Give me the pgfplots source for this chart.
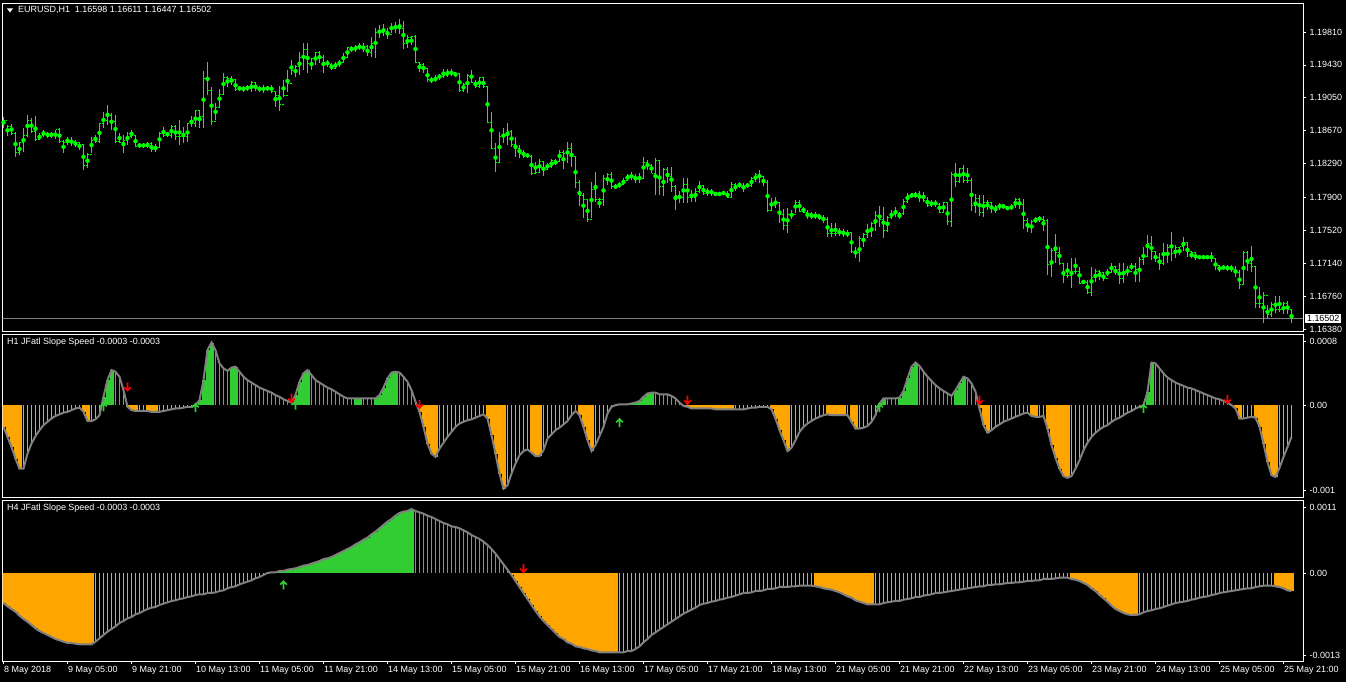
\documentclass[border=0pt]{standalone}
\usepackage{pgfplots}
\pgfplotsset{compat=1.18}
\usepackage{pgfplotstable}
\usepackage{fontspec}
\setmainfont{Liberation Sans}
\definecolor{barlime}{RGB}{0,255,0}
\definecolor{histor}{RGB}{255,165,0}
\definecolor{histgr}{RGB}{50,205,50}
\definecolor{indgray}{RGB}{128,128,128}
\definecolor{arrred}{RGB}{255,0,0}
\definecolor{arrgrn}{RGB}{50,205,50}
\pgfdeclareplotmark{rtick}{\pgfpathmoveto{\pgfqpoint{0bp}{0bp}}\pgfpathlineto{\pgfqpoint{1.8bp}{0bp}}\pgfusepathqstroke}
\pgfdeclareplotmark{ltick}{\pgfpathmoveto{\pgfqpoint{-1.8bp}{0bp}}\pgfpathlineto{\pgfqpoint{0bp}{0bp}}\pgfusepathqstroke}
\pgfdeclareplotmark{dnarr}{\pgfsetlinewidth{1.6bp}\pgfpathmoveto{\pgfqpoint{0bp}{4.5bp}}\pgfpathlineto{\pgfqpoint{0bp}{-3.8bp}}\pgfpathmoveto{\pgfqpoint{-3.3bp}{-0.3bp}}\pgfpathlineto{\pgfqpoint{0bp}{-3.8bp}}\pgfpathlineto{\pgfqpoint{3.3bp}{-0.3bp}}\pgfusepathqstroke}
\pgfdeclareplotmark{uparr}{\pgfsetlinewidth{1.6bp}\pgfpathmoveto{\pgfqpoint{0bp}{-4.5bp}}\pgfpathlineto{\pgfqpoint{0bp}{3.8bp}}\pgfpathmoveto{\pgfqpoint{-3.3bp}{0.3bp}}\pgfpathlineto{\pgfqpoint{0bp}{3.8bp}}\pgfpathlineto{\pgfqpoint{3.3bp}{0.3bp}}\pgfusepathqstroke}
\pgfplotsset{
  hcode/.style 2 args={restrict expr to domain={\thisrow{#1}}{#2}},
  mtaxis/.style={
    scale only axis, width=1300.5bp, xmin=-0.25, xmax=324.875,
    scaled x ticks=false, scaled y ticks=false,
    axis line style={white, line width=0.8bp},
    tick style={white, line width=0.8bp},
    tick align=outside, major tick length=3bp,
    ytick pos=right, yticklabel pos=right,
    xtick pos=left, xticklabel pos=left,
    tick label style={text=white, font=\fontsize{9}{10}\selectfont},
    yticklabel style={anchor=west, inner sep=0pt, xshift=3.5bp},
    clip mode=individual,
  },
}
\pgfplotstableread{
H L C a ka b kb
1.1883 1.1870 1.1879 -26e-5 1 -45e-5 1
1.1874 1.1861 1.1872 -38e-5 1 -50e-5 1
1.1875 1.1862 1.1864 -50e-5 1 -54e-5 1
1.1866 1.1837 1.1842 -64e-5 1 -58e-5 1
1.1853 1.1839 1.1853 -76e-5 1 -64e-5 1
1.1870 1.1842 1.1861 -76e-5 2 -69e-5 1
1.1885 1.1860 1.1879 -58e-5 2 -73e-5 1
1.1882 1.1864 1.1866 -46e-5 2 -78e-5 1
1.1884 1.1855 1.1857 -37e-5 2 -83e-5 1
1.1864 1.1856 1.1862 -30e-5 2 -87e-5 1
1.1868 1.1860 1.1864 -24e-5 2 -90e-5 1
1.1866 1.1859 1.1860 -20e-5 2 -93e-5 1
1.1866 1.1859 1.1861 -16e-5 2 -96e-5 1
1.1868 1.1857 1.1868 -13e-5 2 -99e-5 1
1.1870 1.1853 1.1854 -11e-5 2 -101e-5 1
1.1856 1.1841 1.1853 -9e-5 2 -103e-5 1
1.1860 1.1851 1.1853 -8e-5 2 -105e-5 1
1.1860 1.1849 1.1854 -6e-5 2 -105e-5 1
1.1856 1.1848 1.1853 -4e-5 2 -106e-5 1
1.1854 1.1845 1.1851 -3e-5 2 -107e-5 1
1.1852 1.1822 1.1827 -8e-5 1 -107e-5 1
1.1841 1.1824 1.1839 -19e-5 1 -107e-5 1
1.1860 1.1841 1.1856 -19e-5 2 -107e-5 1
1.1862 1.1853 1.1855 -17e-5 2 -103e-5 2
1.1876 1.1853 1.1875 -12e-5 2 -98e-5 2
1.1889 1.1870 1.1879 10e-5 3 -93e-5 2
1.1897 1.1874 1.1885 30e-5 3 -88e-5 2
1.1887 1.1868 1.1878 42e-5 3 -84e-5 2
1.1885 1.1853 1.1854 40e-5 4 -80e-5 2
1.1864 1.1853 1.1853 34e-5 4 -75e-5 2
1.1862 1.1841 1.1856 18e-5 4 -72e-5 2
1.1866 1.1851 1.1860 -2e-5 1 -68e-5 2
1.1868 1.1859 1.1861 -6e-5 1 -66e-5 2
1.1862 1.1848 1.1849 -7e-5 1 -62e-5 2
1.1853 1.1847 1.1849 -7e-5 2 -60e-5 2
1.1853 1.1847 1.1849 -7e-5 2 -57e-5 2
1.1854 1.1847 1.1852 -7e-5 1 -54e-5 2
1.1854 1.1842 1.1845 -8e-5 1 -52e-5 2
1.1852 1.1842 1.1848 -8e-5 1 -51e-5 2
1.1866 1.1848 1.1864 -8e-5 2 -48e-5 2
1.1871 1.1860 1.1862 -7e-5 2 -46e-5 2
1.1866 1.1860 1.1862 -6e-5 2 -44e-5 2
1.1874 1.1859 1.1872 -5e-5 2 -42e-5 2
1.1874 1.1856 1.1860 -4e-5 2 -41e-5 2
1.1879 1.1851 1.1860 -4e-5 2 -39e-5 2
1.1871 1.1853 1.1860 -3e-5 2 -38e-5 2
1.1876 1.1854 1.1875 -2e-5 2 -36e-5 2
1.1884 1.1871 1.1875 -2e-5 2 -35e-5 2
1.1891 1.1871 1.1890 0 3 -33e-5 2
1.1891 1.1870 1.1883 6e-5 3 -32e-5 2
1.1936 1.1870 1.1927 30e-5 3 -32e-5 2
1.1946 1.1908 1.1914 66e-5 3 -30e-5 2
1.1918 1.1874 1.1878 75e-5 3 -30e-5 2
1.1899 1.1879 1.1894 66e-5 4 -29e-5 2
1.1915 1.1893 1.1909 50e-5 4 -27e-5 2
1.1934 1.1908 1.1928 44e-5 4 -26e-5 2
1.1930 1.1918 1.1927 41e-5 4 -23e-5 2
1.1930 1.1920 1.1926 45e-5 3 -21e-5 2
1.1926 1.1913 1.1915 46e-5 3 -20e-5 2
1.1919 1.1913 1.1916 40e-5 4 -17e-5 2
1.1919 1.1912 1.1916 34e-5 4 -15e-5 2
1.1920 1.1913 1.1916 30e-5 4 -13e-5 2
1.1924 1.1912 1.1923 27e-5 4 -11e-5 2
1.1923 1.1913 1.1916 24e-5 4 -8e-5 2
1.1919 1.1912 1.1915 21e-5 4 -6e-5 2
1.1920 1.1911 1.1916 19e-5 4 -3e-5 2
1.1919 1.1913 1.1916 17e-5 4 0 2
1.1920 1.1911 1.1912 15e-5 4 1e-5 3
1.1913 1.1894 1.1908 12e-5 4 1e-5 3
1.1919 1.1890 1.1897 10e-5 4 3e-5 3
1.1926 1.1906 1.1908 7e-5 4 3e-5 3
1.1937 1.1912 1.1922 5e-5 4 5e-5 3
1.1949 1.1931 1.1936 3e-5 4 6e-5 3
1.1943 1.1929 1.1941 12e-5 3 7e-5 3
1.1958 1.1931 1.1951 28e-5 3 9e-5 3
1.1968 1.1937 1.1961 38e-5 3 11e-5 3
1.1968 1.1934 1.1945 42e-5 3 12e-5 3
1.1951 1.1937 1.1950 36e-5 4 14e-5 3
1.1958 1.1943 1.1957 30e-5 4 16e-5 3
1.1959 1.1945 1.1952 27e-5 4 18e-5 3
1.1954 1.1934 1.1944 24e-5 4 21e-5 3
1.1949 1.1941 1.1943 21e-5 4 22e-5 3
1.1945 1.1937 1.1939 19e-5 4 24e-5 3
1.1946 1.1939 1.1944 16e-5 4 27e-5 3
1.1949 1.1941 1.1946 13e-5 4 30e-5 3
1.1957 1.1945 1.1951 10e-5 4 33e-5 3
1.1964 1.1951 1.1963 8e-5 4 36e-5 3
1.1965 1.1958 1.1963 8e-5 4 39e-5 3
1.1966 1.1958 1.1964 8e-5 3 43e-5 3
1.1968 1.1960 1.1964 8e-5 3 46e-5 3
1.1968 1.1958 1.1964 8e-5 4 50e-5 3
1.1966 1.1953 1.1957 8e-5 4 53e-5 3
1.1975 1.1952 1.1968 8e-5 4 58e-5 3
1.1986 1.1951 1.1980 8e-5 3 62e-5 3
1.1989 1.1974 1.1980 12e-5 3 67e-5 3
1.1990 1.1976 1.1982 21e-5 3 72e-5 3
1.1986 1.1973 1.1978 32e-5 3 77e-5 3
1.1991 1.1980 1.1985 39e-5 3 81e-5 3
1.1993 1.1980 1.1985 40e-5 3 86e-5 3
1.1996 1.1979 1.1985 39e-5 4 90e-5 3
1.1994 1.1961 1.1968 34e-5 4 92e-5 3
1.1978 1.1963 1.1975 28e-5 4 93e-5 3
1.1976 1.1966 1.1976 18e-5 4 96e-5 3
1.1978 1.1945 1.1946 4e-5 4 93e-5 4
1.1946 1.1935 1.1943 -8e-5 1 91e-5 4
1.1945 1.1934 1.1939 -26e-5 1 89e-5 4
1.1939 1.1923 1.1926 -46e-5 1 86e-5 4
1.1929 1.1922 1.1926 -58e-5 1 84e-5 4
1.1931 1.1923 1.1928 -62e-5 1 81e-5 4
1.1933 1.1926 1.1930 -52e-5 2 78e-5 4
1.1938 1.1928 1.1931 -45e-5 2 75e-5 4
1.1938 1.1929 1.1935 -38e-5 2 73e-5 4
1.1938 1.1930 1.1934 -32e-5 2 70e-5 4
1.1934 1.1930 1.1933 -26e-5 2 69e-5 4
1.1934 1.1912 1.1913 -22e-5 2 67e-5 4
1.1922 1.1912 1.1920 -20e-5 2 64e-5 4
1.1933 1.1911 1.1931 -18e-5 2 61e-5 4
1.1937 1.1922 1.1923 -17e-5 2 57e-5 4
1.1926 1.1916 1.1918 -15e-5 2 54e-5 4
1.1929 1.1916 1.1928 -13e-5 2 51e-5 4
1.1928 1.1916 1.1918 -11e-5 2 47e-5 4
1.1919 1.1876 1.1877 -16e-5 1 42e-5 4
1.1889 1.1846 1.1847 -36e-5 1 36e-5 4
1.1853 1.1819 1.1830 -58e-5 1 29e-5 4
1.1866 1.1830 1.1860 -82e-5 1 21e-5 4
1.1870 1.1853 1.1862 -100e-5 1 13e-5 4
1.1876 1.1851 1.1866 -96e-5 2 5e-5 4
1.1868 1.1848 1.1851 -82e-5 2 -3e-5 1
1.1860 1.1837 1.1847 -70e-5 2 -12e-5 1
1.1851 1.1836 1.1841 -60e-5 2 -21e-5 1
1.1845 1.1836 1.1837 -55e-5 2 -30e-5 1
1.1841 1.1836 1.1837 -53e-5 2 -39e-5 1
1.1839 1.1816 1.1818 -57e-5 1 -48e-5 1
1.1831 1.1818 1.1819 -61e-5 1 -57e-5 1
1.1834 1.1818 1.1831 -61e-5 1 -65e-5 1
1.1831 1.1815 1.1822 -54e-5 2 -72e-5 1
1.1830 1.1822 1.1826 -40e-5 2 -78e-5 1
1.1834 1.1824 1.1833 -35e-5 2 -84e-5 1
1.1834 1.1827 1.1831 -30e-5 2 -90e-5 1
1.1845 1.1831 1.1842 -27e-5 2 -96e-5 1
1.1845 1.1823 1.1841 -23e-5 2 -99e-5 1
1.1854 1.1830 1.1847 -19e-5 2 -104e-5 1
1.1853 1.1825 1.1837 -12e-5 2 -106e-5 1
1.1837 1.1801 1.1807 -7e-5 2 -110e-5 1
1.1810 1.1780 1.1792 -12e-5 1 -111e-5 1
1.1795 1.1766 1.1787 -26e-5 1 -113e-5 1
1.1787 1.1762 1.1765 -42e-5 1 -114e-5 1
1.1808 1.1766 1.1799 -55e-5 1 -116e-5 1
1.1819 1.1785 1.1787 -48e-5 2 -117e-5 1
1.1789 1.1778 1.1787 -37e-5 2 -119e-5 1
1.1816 1.1780 1.1812 -26e-5 2 -119e-5 1
1.1818 1.1804 1.1816 -10e-5 2 -119e-5 1
1.1819 1.1800 1.1802 -2e-5 2 -119e-5 1
1.1805 1.1800 1.1802 0 2 -119e-5 1
1.1808 1.1801 1.1805 1e-5 3 -119e-5 2
1.1812 1.1804 1.1810 1e-5 3 -119e-5 2
1.1817 1.1809 1.1815 1e-5 3 -117e-5 2
1.1819 1.1810 1.1814 2e-5 3 -117e-5 2
1.1817 1.1807 1.1812 3e-5 3 -114e-5 2
1.1818 1.1807 1.1812 5e-5 3 -110e-5 2
1.1837 1.1812 1.1830 10e-5 3 -104e-5 2
1.1833 1.1822 1.1827 14e-5 3 -99e-5 2
1.1829 1.1818 1.1818 15e-5 3 -93e-5 2
1.1836 1.1793 1.1833 15e-5 4 -89e-5 2
1.1833 1.1793 1.1802 13e-5 4 -85e-5 2
1.1824 1.1792 1.1822 13e-5 4 -81e-5 2
1.1825 1.1807 1.1814 13e-5 4 -77e-5 2
1.1825 1.1796 1.1803 11e-5 4 -73e-5 2
1.1804 1.1775 1.1792 8e-5 4 -69e-5 2
1.1797 1.1784 1.1790 3e-5 4 -65e-5 2
1.1812 1.1784 1.1805 -1e-5 1 -61e-5 2
1.1812 1.1784 1.1790 -2e-5 1 -58e-5 2
1.1799 1.1785 1.1790 -4e-5 1 -55e-5 2
1.1801 1.1785 1.1797 -4e-5 1 -52e-5 2
1.1809 1.1795 1.1804 -4e-5 1 -48e-5 2
1.1804 1.1793 1.1795 -4e-5 1 -46e-5 2
1.1801 1.1792 1.1797 -4e-5 1 -45e-5 2
1.1800 1.1792 1.1795 -4e-5 1 -43e-5 2
1.1796 1.1792 1.1793 -5e-5 1 -42e-5 2
1.1796 1.1792 1.1795 -5e-5 1 -40e-5 2
1.1797 1.1793 1.1795 -5e-5 1 -39e-5 2
1.1797 1.1789 1.1790 -5e-5 1 -37e-5 2
1.1808 1.1789 1.1805 -5e-5 1 -36e-5 2
1.1807 1.1797 1.1802 -5e-5 2 -34e-5 2
1.1808 1.1801 1.1802 -5e-5 2 -32e-5 2
1.1807 1.1796 1.1802 -5e-5 2 -30e-5 2
1.1807 1.1801 1.1804 -4e-5 2 -30e-5 2
1.1814 1.1802 1.1812 -3e-5 2 -29e-5 2
1.1818 1.1808 1.1816 -3e-5 2 -27e-5 2
1.1822 1.1807 1.1814 -2e-5 2 -27e-5 2
1.1815 1.1803 1.1807 -2e-5 2 -26e-5 2
1.1810 1.1773 1.1775 -2e-5 2 -24e-5 2
1.1789 1.1775 1.1781 -5e-5 1 -24e-5 2
1.1790 1.1778 1.1784 -16e-5 1 -23e-5 2
1.1785 1.1760 1.1770 -30e-5 1 -21e-5 2
1.1777 1.1752 1.1757 -42e-5 1 -21e-5 2
1.1778 1.1749 1.1770 -55e-5 1 -21e-5 2
1.1775 1.1765 1.1770 -51e-5 2 -20e-5 2
1.1787 1.1772 1.1784 -42e-5 2 -20e-5 2
1.1787 1.1773 1.1774 -32e-5 2 -19e-5 2
1.1779 1.1772 1.1773 -26e-5 2 -19e-5 2
1.1775 1.1765 1.1771 -22e-5 2 -19e-5 2
1.1773 1.1765 1.1767 -19e-5 2 -19e-5 2
1.1773 1.1765 1.1770 -16e-5 2 -20e-5 1
1.1771 1.1764 1.1766 -14e-5 2 -21e-5 1
1.1770 1.1760 1.1765 -12e-5 2 -23e-5 1
1.1767 1.1744 1.1748 -11e-5 1 -24e-5 1
1.1760 1.1744 1.1748 -12e-5 1 -25e-5 1
1.1760 1.1745 1.1748 -12e-5 1 -27e-5 1
1.1755 1.1745 1.1751 -12e-5 1 -29e-5 1
1.1754 1.1744 1.1750 -12e-5 1 -32e-5 1
1.1752 1.1744 1.1750 -12e-5 2 -35e-5 1
1.1750 1.1726 1.1728 -20e-5 1 -37e-5 1
1.1733 1.1720 1.1726 -28e-5 1 -41e-5 1
1.1745 1.1715 1.1742 -28e-5 2 -43e-5 1
1.1749 1.1733 1.1747 -27e-5 2 -45e-5 1
1.1759 1.1743 1.1751 -25e-5 2 -47e-5 1
1.1762 1.1744 1.1760 -20e-5 2 -47e-5 1
1.1774 1.1751 1.1769 -12e-5 2 -47e-5 2
1.1780 1.1756 1.1764 2e-5 3 -47e-5 2
1.1779 1.1743 1.1752 8e-5 3 -45e-5 2
1.1769 1.1750 1.1767 8e-5 4 -44e-5 2
1.1775 1.1765 1.1770 8e-5 4 -43e-5 2
1.1779 1.1767 1.1771 8e-5 4 -42e-5 2
1.1773 1.1765 1.1771 9e-5 3 -42e-5 2
1.1788 1.1770 1.1785 17e-5 3 -40e-5 2
1.1795 1.1784 1.1792 32e-5 3 -39e-5 2
1.1795 1.1789 1.1794 46e-5 3 -38e-5 2
1.1796 1.1789 1.1794 51e-5 3 -36e-5 2
1.1797 1.1785 1.1790 47e-5 4 -36e-5 2
1.1796 1.1785 1.1786 40e-5 4 -34e-5 2
1.1790 1.1779 1.1781 34e-5 4 -33e-5 2
1.1787 1.1779 1.1782 29e-5 4 -32e-5 2
1.1787 1.1779 1.1782 24e-5 4 -30e-5 2
1.1784 1.1772 1.1773 20e-5 4 -30e-5 2
1.1785 1.1772 1.1784 17e-5 4 -29e-5 2
1.1785 1.1758 1.1762 14e-5 4 -28e-5 2
1.1819 1.1756 1.1817 11e-5 4 -27e-5 2
1.1830 1.1802 1.1808 18e-5 3 -26e-5 2
1.1824 1.1807 1.1823 26e-5 3 -25e-5 2
1.1827 1.1807 1.1810 34e-5 3 -24e-5 2
1.1824 1.1807 1.1809 32e-5 4 -23e-5 2
1.1812 1.1774 1.1781 26e-5 4 -22e-5 2
1.1794 1.1772 1.1789 16e-5 4 -21e-5 2
1.1793 1.1769 1.1773 -4e-5 1 -20e-5 2
1.1793 1.1767 1.1784 -24e-5 1 -20e-5 2
1.1787 1.1775 1.1784 -33e-5 1 -18e-5 2
1.1785 1.1772 1.1777 -30e-5 2 -18e-5 2
1.1781 1.1772 1.1779 -26e-5 2 -17e-5 2
1.1784 1.1775 1.1782 -23e-5 2 -17e-5 2
1.1782 1.1777 1.1779 -20e-5 2 -16e-5 2
1.1780 1.1775 1.1778 -18e-5 2 -15e-5 2
1.1782 1.1775 1.1781 -16e-5 2 -15e-5 2
1.1789 1.1778 1.1787 -14e-5 2 -14e-5 2
1.1789 1.1777 1.1782 -12e-5 2 -14e-5 2
1.1788 1.1754 1.1763 -10e-5 2 -13e-5 2
1.1766 1.1750 1.1755 -9e-5 2 -12e-5 2
1.1764 1.1749 1.1762 -13e-5 1 -12e-5 2
1.1767 1.1760 1.1766 -14e-5 1 -11e-5 2
1.1769 1.1762 1.1765 -14e-5 2 -11e-5 2
1.1769 1.1751 1.1763 -13e-5 2 -9e-5 2
1.1765 1.1700 1.1712 -28e-5 1 -9e-5 2
1.1732 1.1698 1.1729 -48e-5 1 -9e-5 2
1.1748 1.1714 1.1726 -63e-5 1 -8e-5 2
1.1733 1.1712 1.1714 -76e-5 1 -7e-5 2
1.1714 1.1691 1.1700 -85e-5 1 -7e-5 2
1.1714 1.1697 1.1700 -87e-5 1 -7e-5 2
1.1720 1.1685 1.1704 -85e-5 2 -9e-5 1
1.1720 1.1702 1.1704 -76e-5 2 -10e-5 1
1.1710 1.1690 1.1691 -66e-5 2 -12e-5 1
1.1695 1.1690 1.1692 -54e-5 2 -15e-5 1
1.1695 1.1678 1.1680 -45e-5 2 -18e-5 1
1.1710 1.1676 1.1698 -38e-5 2 -23e-5 1
1.1707 1.1692 1.1704 -33e-5 2 -27e-5 1
1.1706 1.1695 1.1703 -29e-5 2 -33e-5 1
1.1704 1.1693 1.1696 -26e-5 2 -38e-5 1
1.1707 1.1699 1.1703 -24e-5 2 -43e-5 1
1.1714 1.1703 1.1710 -20e-5 2 -49e-5 1
1.1710 1.1700 1.1707 -17e-5 2 -54e-5 1
1.1714 1.1690 1.1696 -15e-5 2 -57e-5 1
1.1714 1.1691 1.1704 -12e-5 2 -60e-5 1
1.1711 1.1699 1.1704 -9e-5 2 -62e-5 1
1.1714 1.1706 1.1710 -7e-5 2 -63e-5 1
1.1714 1.1692 1.1707 -4e-5 2 -63e-5 1
1.1721 1.1692 1.1718 -2e-5 2 -62e-5 2
1.1733 1.1712 1.1722 0 3 -59e-5 2
1.1747 1.1721 1.1737 16e-5 3 -57e-5 2
1.1745 1.1718 1.1727 51e-5 3 -56e-5 2
1.1727 1.1715 1.1720 50e-5 4 -54e-5 2
1.1726 1.1706 1.1714 44e-5 4 -53e-5 2
1.1737 1.1712 1.1726 38e-5 4 -51e-5 2
1.1736 1.1714 1.1732 33e-5 4 -49e-5 2
1.1750 1.1717 1.1725 30e-5 4 -47e-5 2
1.1735 1.1720 1.1732 27e-5 4 -45e-5 2
1.1733 1.1723 1.1733 25e-5 4 -44e-5 2
1.1744 1.1728 1.1738 23e-5 4 -43e-5 2
1.1738 1.1721 1.1727 21e-5 4 -42e-5 2
1.1727 1.1720 1.1726 20e-5 4 -40e-5 2
1.1726 1.1718 1.1720 18e-5 4 -39e-5 2
1.1723 1.1719 1.1721 16e-5 4 -37e-5 2
1.1723 1.1719 1.1721 14e-5 4 -36e-5 2
1.1723 1.1719 1.1721 12e-5 4 -35e-5 2
1.1727 1.1715 1.1719 10e-5 4 -33e-5 2
1.1719 1.1706 1.1711 8e-5 4 -32e-5 2
1.1712 1.1704 1.1708 7e-5 4 -30e-5 2
1.1712 1.1706 1.1710 5e-5 4 -29e-5 2
1.1712 1.1705 1.1710 3e-5 4 -28e-5 2
1.1712 1.1704 1.1707 0 2 -27e-5 2
1.1711 1.1698 1.1703 -4e-5 1 -26e-5 2
1.1706 1.1684 1.1689 -16e-5 1 -25e-5 2
1.1728 1.1689 1.1726 -16e-5 2 -24e-5 2
1.1728 1.1705 1.1714 -15e-5 2 -23e-5 2
1.1734 1.1704 1.1710 -14e-5 2 -23e-5 2
1.1710 1.1662 1.1668 -15e-5 1 -21e-5 2
1.1687 1.1662 1.1668 -26e-5 1 -20e-5 2
1.1681 1.1645 1.1677 -46e-5 1 -19e-5 2
1.1666 1.1650 1.1655 -68e-5 1 -19e-5 2
1.1669 1.1652 1.1666 -84e-5 1 -19e-5 2
1.1676 1.1656 1.1660 -86e-5 1 -20e-5 1
1.1676 1.1658 1.1660 -75e-5 2 -21e-5 1
1.1669 1.1655 1.1668 -62e-5 2 -23e-5 1
1.1670 1.1656 1.1661 -50e-5 2 -26e-5 1
1.16611 1.16447 1.16502 -38e-5 2 -27e-5 1
}\data
\begin{document}
\begin{tikzpicture}
\useasboundingbox (0,0) rectangle (1346bp,682bp);
\fill[black] (0,0) rectangle (1346bp,682bp);
% ---------------- price panel
\begin{axis}[mtaxis, at={(2.5bp,351bp)}, anchor=south west, height=328bp,
  ymin=1.16357, ymax=1.20145, xtick=\empty,
  ytick={1.1981,1.1943,1.1905,1.1867,1.1829,1.179,1.1752,1.1714,1.1676,1.1638},
  yticklabels={1.19810,1.19430,1.19050,1.18670,1.18290,1.17900,1.17520,1.17140,1.16760,1.16380}]
\addplot[indgray, line width=0.8bp, mark=none] coordinates {(-1,1.16502) (326,1.16502)};
\addplot[barlime, only marks, mark=none, error bars/.cd, y dir=both, y explicit, error mark=none,
  error bar style={color=barlime, line width=1bp, solid}]
  table[x expr=\coordindex, y expr={(\thisrow{H}+\thisrow{L})/2}, y error expr={(\thisrow{H}-\thisrow{L})/2}] {\data};
\addplot[only marks, mark=rtick, barlime, mark options={line width=1bp, solid}] table[x expr=\coordindex, y=C] {\data};
\addplot[only marks, mark=ltick, barlime, mark options={line width=1bp, solid}, restrict x to domain=0:322.5] table[x expr=\coordindex+1, y=C] {\data};
\node[anchor=west, fill=white, text=black, inner xsep=2bp, inner ysep=1.2bp, font=\fontsize{9}{10}\selectfont, xshift=1.8bp] at (axis cs:324.875,1.16502) {1.16502};
\end{axis}
% ---------------- H1 panel
\begin{axis}[mtaxis, at={(2.5bp,185bp)}, anchor=south west, height=163bp,
  ymin=-0.0011, ymax=0.000852, xtick=\empty,
  ytick={-0.00102,0,0.000768}, yticklabels={-0.001,0.00,0.0008}]
\addplot[ycomb, mark=none, histor, line width=4bp, hcode={ka}{0.5:1.5}] table[x expr=\coordindex, y=a] {\data};
\addplot[ycomb, mark=none, histor, line width=1bp, hcode={ka}{1.5:2.5}] table[x expr=\coordindex, y=a] {\data};
\addplot[ycomb, mark=none, histgr, line width=4bp, hcode={ka}{2.5:3.5}] table[x expr=\coordindex, y=a] {\data};
\addplot[ycomb, mark=none, histgr, line width=1bp, hcode={ka}{3.5:4.5}] table[x expr=\coordindex, y=a] {\data};
\addplot[indgray, line width=2bp, mark=none] table[x expr=\coordindex, y=a] {\data};
\addplot[only marks, mark=dnarr, arrred] coordinates {(31,22e-5) (72,8e-5) (104,1e-5) (171,6e-5) (244,6e-5) (306,7e-5)};
\addplot[only marks, mark=uparr, arrgrn] coordinates {(25,-2e-5) (48,-3e-5) (73,0) (154,-21e-5) (219,-3e-5) (285,-4e-5)};
\end{axis}
% ---------------- H4 panel
\begin{axis}[mtaxis, at={(2.5bp,21bp)}, anchor=south west, height=161bp,
  ymin=-0.00132, ymax=0.001095,
  ytick={-0.00123,0,0.00099}, yticklabels={-0.0013,0.00,0.0011},
  xtick={0,16,...,320},
  xticklabels={8 May 2018,9 May 05:00,9 May 21:00,10 May 13:00,11 May 05:00,11 May 21:00,14 May 13:00,15 May 05:00,15 May 21:00,16 May 13:00,17 May 05:00,17 May 21:00,18 May 13:00,21 May 05:00,21 May 21:00,22 May 13:00,23 May 05:00,23 May 21:00,24 May 13:00,25 May 05:00,25 May 21:00},
  xticklabel style={anchor=west, inner sep=0pt, yshift=-6.5bp, xshift=0.5bp}]
\addplot[ycomb, mark=none, histor, line width=4bp, hcode={kb}{0.5:1.5}] table[x expr=\coordindex, y=b] {\data};
\addplot[ycomb, mark=none, histor, line width=1bp, hcode={kb}{1.5:2.5}] table[x expr=\coordindex, y=b] {\data};
\addplot[ycomb, mark=none, histgr, line width=4bp, hcode={kb}{2.5:3.5}] table[x expr=\coordindex, y=b] {\data};
\addplot[ycomb, mark=none, histgr, line width=1bp, hcode={kb}{3.5:4.5}] table[x expr=\coordindex, y=b] {\data};
\addplot[indgray, line width=2bp, mark=none] table[x expr=\coordindex, y=b] {\data};
\addplot[only marks, mark=uparr, arrgrn] coordinates {(70,-18e-5)};
\addplot[only marks, mark=dnarr, arrred] coordinates {(130,7e-5)};
\end{axis}
% ---------------- titles
\fill[white] (7bp,673.5bp) -- (13bp,673.5bp) -- (10bp,669.5bp) -- cycle;
\node[anchor=west, inner sep=0pt, text=white, font=\fontsize{9}{10}\selectfont] at (18bp,672bp) {EURUSD,H1\ \ 1.16598 1.16611 1.16447 1.16502};
\node[anchor=west, inner sep=0pt, text=white, font=\fontsize{9}{10}\selectfont] at (7bp,340bp) {H1 JFatl Slope Speed -0.0003 -0.0003};
\node[anchor=west, inner sep=0pt, text=white, font=\fontsize{9}{10}\selectfont] at (7bp,174bp) {H4 JFatl Slope Speed -0.0003 -0.0003};
\end{tikzpicture}
\end{document}
